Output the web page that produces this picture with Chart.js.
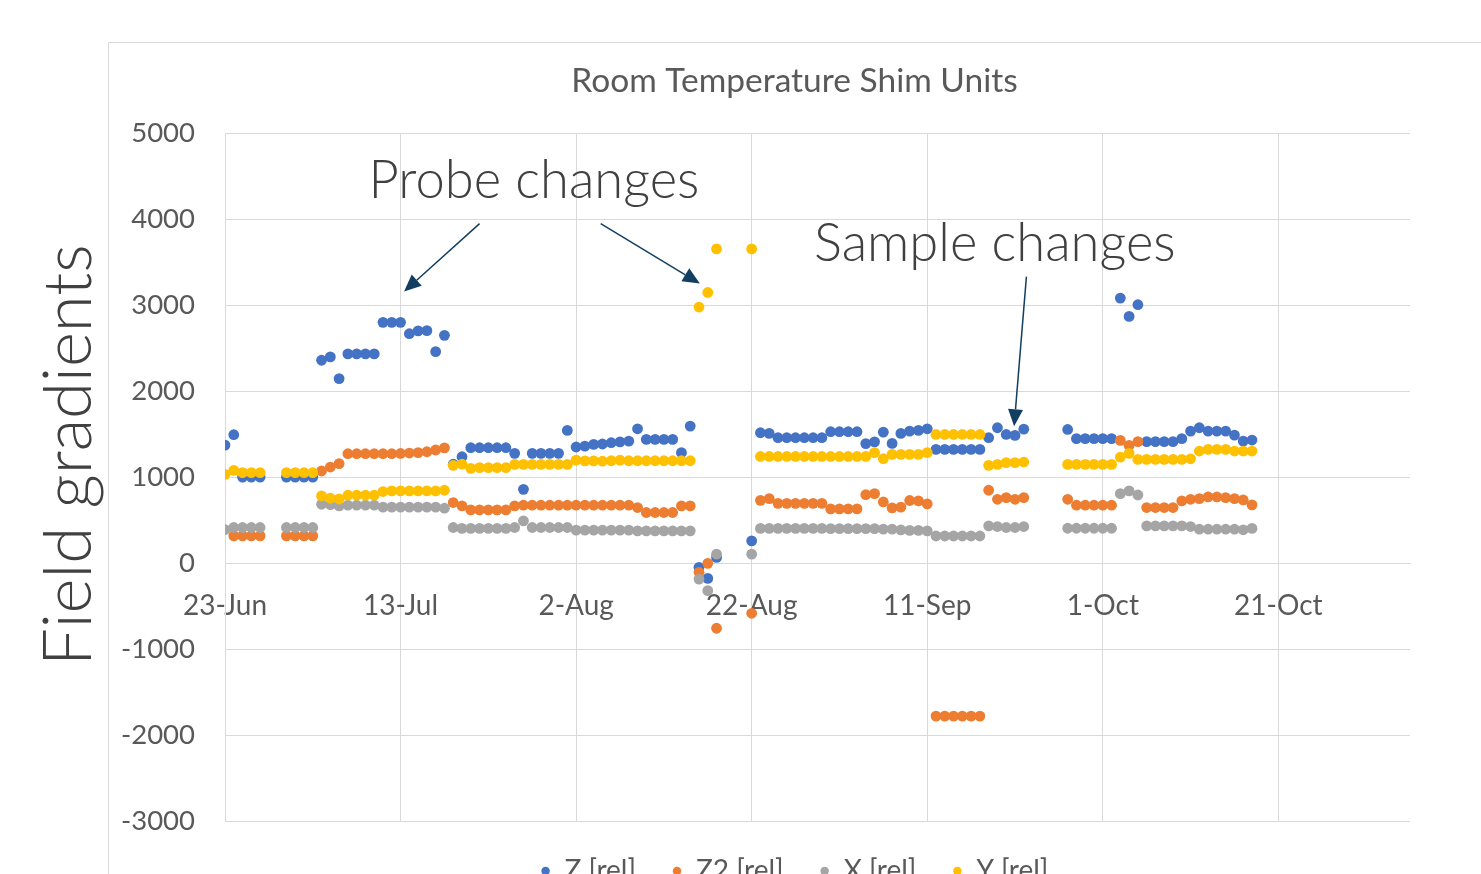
<!DOCTYPE html>
<html><head><meta charset="utf-8">
<script src="https://cdn.jsdelivr.net/npm/chart.js@4.4.1/dist/chart.umd.min.js"></script>
<style>html,body{margin:0;padding:0;background:#fff;overflow:hidden;width:1481px;height:874px;}
#c{position:absolute;left:0;top:0;}</style>
</head><body>
<canvas id="c" width="1481" height="900"></canvas>
<script>
const chartTitle = 'Room Temperature Shim Units';
const yAxisTitle = 'Field gradients';
const seriesNames = ['Z [rel]', 'Z2 [rel]', 'X [rel]', 'Y [rel]'];
const tickDays = [0, 20, 40, 60, 80, 100, 120];
const tickLabels = ['23-Jun', '13-Jul', '2-Aug', '22-Aug', '11-Sep', '1-Oct', '21-Oct'];
const yTickValues = [-3000, -2000, -1000, 0, 1000, 2000, 3000, 4000, 5000];

// days since 23-Jun
const days = [
  0,1,2,3,4,7,8,9,10,11,12,13,14,15,16,17,18,19,20,21,22,23,24,25,
  26,27,28,29,30,31,32,33,34,35,36,37,38,39,40,41,42,43,44,45,46,47,48,49,50,51,52,53,
  54,55,56,60,
  61,62,63,64,65,66,67,68,69,70,71,72,73,74,75,76,77,78,79,80,81,82,83,84,85,86,87,88,89,90,91,
  96,97,98,99,100,101,102,103,104,105,106,107,108,109,110,111,112,113,114,115,116,117
];
const zRel = [
  1372,1493,1000,1000,1000,1000,1000,1000,1000,2359,2398,2146,2433,2433,2433,2433,2800,2800,2800,2668,2700,2703,2459,2649,
  1150,1237,1342,1342,1342,1342,1342,1276,858,1276,1276,1276,1276,1543,1350,1360,1380,1385,1400,1410,1418,1562,1438,1438,1438,1438,1284,1593,
  -50,-178,66,259,
  1516,1508,1458,1458,1458,1458,1458,1458,1528,1528,1528,1528,1390,1410,1523,1392,1508,1535,1543,1562,1322,1322,1322,1322,1322,1322,1458,1574,1496,1485,1558,
  1554,1447,1447,1447,1447,1447,3082,2869,3005,1412,1412,1412,1412,1447,1535,1574,1535,1535,1535,1489,1419,1431
];
const z2Rel = [
  null,317,317,317,317,317,317,317,317,1071,1117,1157,1272,1272,1272,1272,1272,1272,1275,1280,1285,1295,1315,1340,
  704,665,618,618,618,618,618,665,673,673,673,673,673,673,673,673,673,673,673,673,673,646,588,588,588,588,665,665,
  -108,-3,-758,-584,
  730,750,695,695,695,695,695,695,630,630,630,630,795,808,711,642,650,728,723,688,-1780,-1780,-1780,-1780,-1780,-1780,847,742,762,742,762,
  742,673,673,673,673,673,1427,1369,1412,646,646,646,646,723,742,750,769,769,762,750,734,677
];
const xRel = [
  390,414,414,414,414,414,414,414,414,684,680,665,673,673,673,673,650,650,650,650,650,650,650,638,
  414,403,403,403,403,403,403,414,491,414,414,414,414,414,383,383,383,383,383,383,383,375,375,375,375,375,375,375,
  -186,-321,104,104,
  403,403,403,403,403,403,403,403,400,400,400,400,400,400,395,395,385,380,380,375,315,315,315,315,315,315,433,425,414,414,425,
  405,405,405,405,405,405,808,839,792,433,433,433,433,433,425,394,394,394,394,394,387,403
];
const yRel = [
  1032,1079,1052,1052,1052,1052,1052,1052,1052,781,754,745,789,789,789,789,832,840,840,840,840,840,840,847,
  1137,1150,1102,1110,1110,1110,1110,1148,1148,1148,1148,1148,1148,1148,1198,1188,1188,1185,1190,1198,1190,1190,1190,1190,1190,1190,1190,1190,
  2978,3147,3654,3654,
  1240,1240,1240,1240,1240,1240,1240,1240,1240,1240,1240,1240,1240,1284,1214,1264,1264,1264,1264,1284,1496,1496,1496,1496,1496,1496,1137,1148,1168,1168,1175,
  1148,1148,1148,1148,1148,1148,1233,1276,1206,1206,1206,1206,1206,1206,1213,1303,1322,1322,1322,1303,1303,1303
];

// annotations in data coordinates (day, value)
const noteTexts = [
  {text: 'Probe changes', x: 35.2, y: 4246},
  {text: 'Sample changes', x: 87.7, y: 3515}
];
const noteArrows = [
  {from: [29.0, 3948], to: [20.4, 3158]},
  {from: [42.8, 3948], to: [54.1, 3251]},
  {from: [91.3, 3332], to: [89.9, 1591]}
];

const FONT = "Lato, 'Open Sans', sans-serif";
const TEXT = '#595959';
const GRID = '#d9d9d9';
const colors = ['#4472C4', '#ED7D31', '#A5A5A5', '#FFC000'];
const valueSets = [zRel, z2Rel, xRel, yRel];

const datasets = seriesNames.map((name, k) => ({
  label: name,
  data: days.map((d, i) => ({x: d, y: valueSets[k][i]})).filter(p => p.y !== null),
  backgroundColor: colors[k],
  borderColor: colors[k],
  pointRadius: 5.4,
  pointHoverRadius: 5.4,
  pointBorderWidth: 0,
  pointStyle: 'circle',
  showLine: false,
  order: 3 - k
}));

const decorPlugin = {
  id: 'decor',
  beforeDraw(chart) {
    const ctx = chart.ctx;
    ctx.save();
    ctx.strokeStyle = GRID;
    ctx.lineWidth = 1;
    ctx.beginPath();
    ctx.moveTo(108.5, chart.height);
    ctx.lineTo(108.5, 42.5);
    ctx.lineTo(chart.width, 42.5);
    ctx.stroke();
    ctx.restore();
  },
  afterDraw(chart) {
    const {ctx, chartArea} = chart;
    const xs = chart.scales.x, ys = chart.scales.y;
    ctx.save();
    // y axis title
    ctx.save();
    ctx.translate(chartArea.left - 134, (chartArea.top + chartArea.bottom) / 2 - 22);
    ctx.rotate(-Math.PI / 2);
    ctx.font = "300 67px " + FONT;
    ctx.fillStyle = '#404040';
    ctx.textAlign = 'center';
    ctx.textBaseline = 'alphabetic';
    ctx.fillText(yAxisTitle, 0, 0);
    ctx.restore();
    // notes
    ctx.font = "300 52.5px " + FONT;
    ctx.fillStyle = '#404040';
    ctx.textAlign = 'center';
    ctx.textBaseline = 'alphabetic';
    noteTexts.forEach(n => ctx.fillText(n.text, xs.getPixelForValue(n.x), ys.getPixelForValue(n.y)));
    // arrows
    const col = '#123F61';
    noteArrows.forEach(a => {
      const x1 = xs.getPixelForValue(a.from[0]), y1 = ys.getPixelForValue(a.from[1]);
      const x2 = xs.getPixelForValue(a.to[0]), y2 = ys.getPixelForValue(a.to[1]);
      const ang = Math.atan2(y2 - y1, x2 - x1);
      const hl = 17, hw = 7.5;
      const bx = x2 - hl * Math.cos(ang), by = y2 - hl * Math.sin(ang);
      ctx.strokeStyle = col; ctx.lineWidth = 1.5;
      ctx.beginPath(); ctx.moveTo(x1, y1); ctx.lineTo(bx, by); ctx.stroke();
      ctx.fillStyle = col;
      ctx.beginPath();
      ctx.moveTo(x2, y2);
      ctx.lineTo(bx + hw * Math.sin(ang), by - hw * Math.cos(ang));
      ctx.lineTo(bx - hw * Math.sin(ang), by + hw * Math.cos(ang));
      ctx.closePath(); ctx.fill();
    });
    ctx.restore();
  }
};

new Chart(document.getElementById('c'), {
  type: 'scatter',
  data: {datasets},
  plugins: [decorPlugin],
  options: {
    responsive: false,
    animation: false,
    devicePixelRatio: 1,
    layout: {padding: {left: 108, top: 42, right: 0, bottom: 5}},
    plugins: {
      title: {display: true, text: chartTitle, color: TEXT, font: {family: FONT, size: 33.5, weight: 'normal'}, padding: {top: 19, bottom: 32}},
      legend: {
        position: 'bottom',
        labels: {usePointStyle: true, boxWidth: 10, boxHeight: 6, padding: 36, color: TEXT,
          font: {family: FONT, size: 28}, sort: (a, b) => a.datasetIndex - b.datasetIndex}
      },
      tooltip: {enabled: false}
    },
    scales: {
      x: {
        type: 'linear', axis: 'x', position: {y: 0}, min: 0, max: 135,
        afterBuildTicks: s => { s.ticks = tickDays.map(v => ({value: v})); },
        ticks: {callback: v => tickLabels[tickDays.indexOf(v)], color: TEXT, font: {family: FONT, size: 28}, padding: 26, maxRotation: 0, autoSkip: false},
        grid: {color: GRID, drawTicks: false},
        border: {color: GRID}
      },
      y: {
        type: 'linear', position: 'left', min: -3000, max: 5000,
        afterBuildTicks: s => { s.ticks = yTickValues.map(v => ({value: v})); },
        afterFit: s => { s.width = 117; },
        ticks: {callback: v => String(v), color: TEXT, font: {family: FONT, size: 27.5}, padding: 30},
        grid: {color: GRID, drawTicks: false},
        border: {color: GRID}
      },
      yR: {
        type: 'linear', position: 'right', min: 0, max: 1,
        afterFit: s => { s.width = 71; },
        ticks: {display: false},
        grid: {display: false, drawTicks: false},
        border: {display: false}
      }
    }
  }
});
</script>
</body></html>
